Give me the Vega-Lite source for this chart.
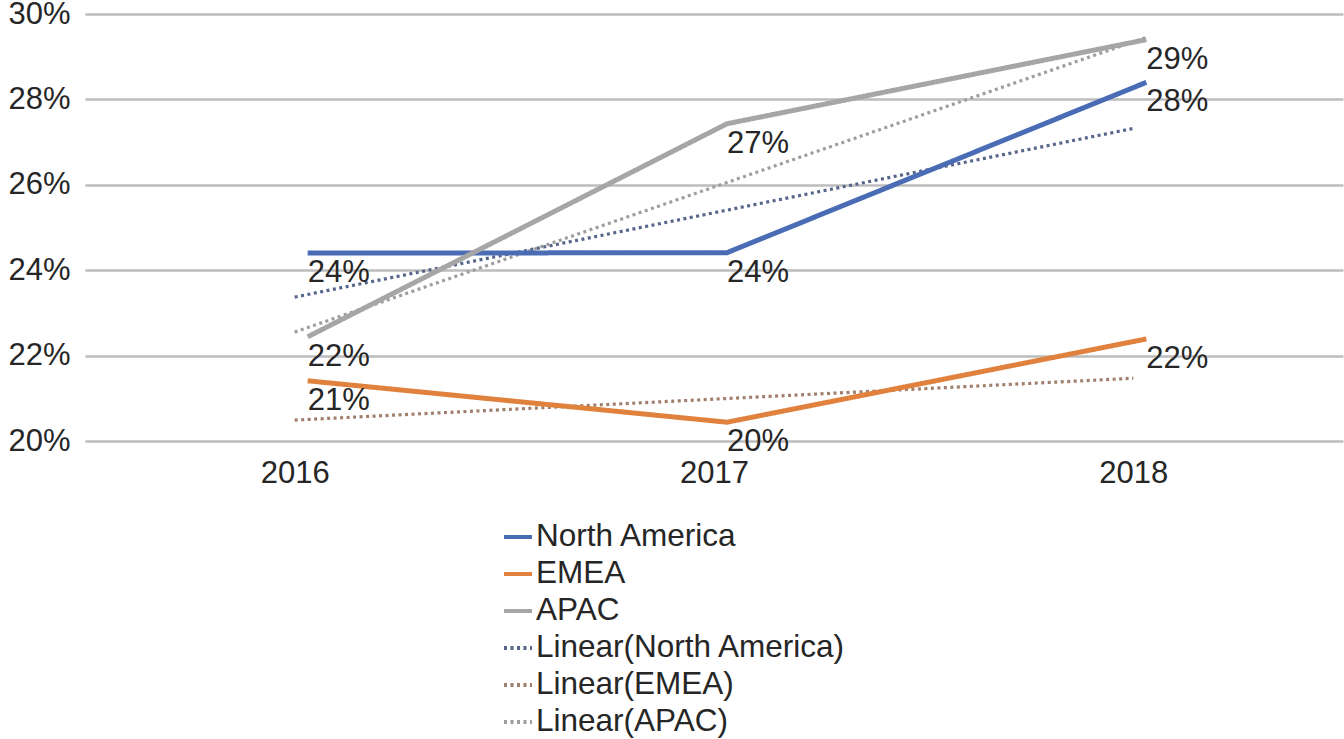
{
  "$schema": "https://vega.github.io/schema/vega-lite/v6.json",
  "autosize": {"type": "none"},
  "width": 1258,
  "height": 427,
  "padding": {"left": 85, "top": 14, "right": 1, "bottom": 298},
  "background": "white",
  "config": {
    "view": {"stroke": null},
    "font": "Liberation Sans",
    "axis": {"labelFont": "Liberation Sans", "labelFontSize": 31, "labelColor": "#262626"},
    "legend": {"labelFont": "Liberation Sans", "labelLimit": 0}
  },
  "datasets": {
    "series": [
      {"series": "North America", "year": 2016, "value": 0.2440},
      {"series": "North America", "year": 2017, "value": 0.2441},
      {"series": "North America", "year": 2018, "value": 0.2840},
      {"series": "EMEA", "year": 2016, "value": 0.2141},
      {"series": "EMEA", "year": 2017, "value": 0.2044},
      {"series": "EMEA", "year": 2018, "value": 0.2239},
      {"series": "APAC", "year": 2016, "value": 0.2244},
      {"series": "APAC", "year": 2017, "value": 0.2743},
      {"series": "APAC", "year": 2018, "value": 0.2940}
    ],
    "trends": [
      {"series": "Linear(North America)", "year": 2016, "value": 0.2337},
      {"series": "Linear(North America)", "year": 2018, "value": 0.2732},
      {"series": "Linear(EMEA)", "year": 2016, "value": 0.2049},
      {"series": "Linear(EMEA)", "year": 2018, "value": 0.2147},
      {"series": "Linear(APAC)", "year": 2016, "value": 0.2255},
      {"series": "Linear(APAC)", "year": 2018.03, "value": 0.2945}
    ]
  },
  "encoding": {
    "x": {
      "field": "year", "type": "quantitative",
      "scale": {"domain": [2015.5, 2018.5], "nice": false, "zero": false},
      "axis": {"values": [2016, 2017, 2018], "format": "d", "grid": false, "domain": false, "ticks": false, "labelPadding": 17, "title": null}
    },
    "y": {
      "field": "value", "type": "quantitative",
      "scale": {"domain": [0.2, 0.3], "nice": false, "zero": false},
      "axis": {"values": [0.2, 0.22, 0.24, 0.26, 0.28, 0.3], "format": ".0%", "grid": true, "gridColor": "#bdbdbd", "gridWidth": 2.5, "domain": false, "ticks": false, "labelPadding": 15, "title": null}
    }
  },
  "layer": [
    {
      "data": {"name": "trends"},
      "mark": {"type": "line", "strokeWidth": 3.2},
      "encoding": {
        "color": {"field": "series", "type": "nominal"},
        "strokeDash": {"field": "series", "type": "nominal"}
      }
    },
    {
      "data": {"name": "series"},
      "mark": {"type": "line", "strokeWidth": 5, "xOffset": 13},
      "encoding": {
        "color": {
          "field": "series", "type": "nominal",
          "scale": {
            "domain": ["North America", "EMEA", "APAC", "Linear(North America)", "Linear(EMEA)", "Linear(APAC)"],
            "range": ["#4a6cb5", "#e0823e", "#a6a6a6", "#56668a", "#a07e6b", "#9e9e9e"]
          },
          "legend": {
            "title": null, "orient": "none", "legendX": 417, "legendY": 507,
            "symbolType": "stroke", "symbolSize": 784, "symbolStrokeWidth": 4,
            "labelFontSize": 31.5, "labelColor": "#262626", "labelOffset": 2, "rowPadding": 5, "labelLimit": 0
          }
        },
        "strokeDash": {
          "field": "series", "type": "nominal",
          "scale": {
            "domain": ["North America", "EMEA", "APAC", "Linear(North America)", "Linear(EMEA)", "Linear(APAC)"],
            "range": [[1, 0], [1, 0], [1, 0], [3, 3.5], [3, 3.5], [3, 3.5]]
          },
          "legend": {
            "title": null, "orient": "none", "legendX": 417, "legendY": 507,
            "symbolType": "stroke", "symbolSize": 784, "symbolStrokeWidth": 4,
            "labelFontSize": 31.5, "labelColor": "#262626", "labelOffset": 2, "rowPadding": 5, "labelLimit": 0
          }
        }
      }
    },
    {
      "data": {"name": "series"},
      "mark": {"type": "text", "align": "left", "baseline": "alphabetic", "xOffset": 13, "dy": 29, "fontSize": 31, "color": "#262626", "font": "Liberation Sans"},
      "encoding": {
        "text": {"field": "value", "type": "quantitative", "format": ".0%"}
      }
    }
  ]
}
